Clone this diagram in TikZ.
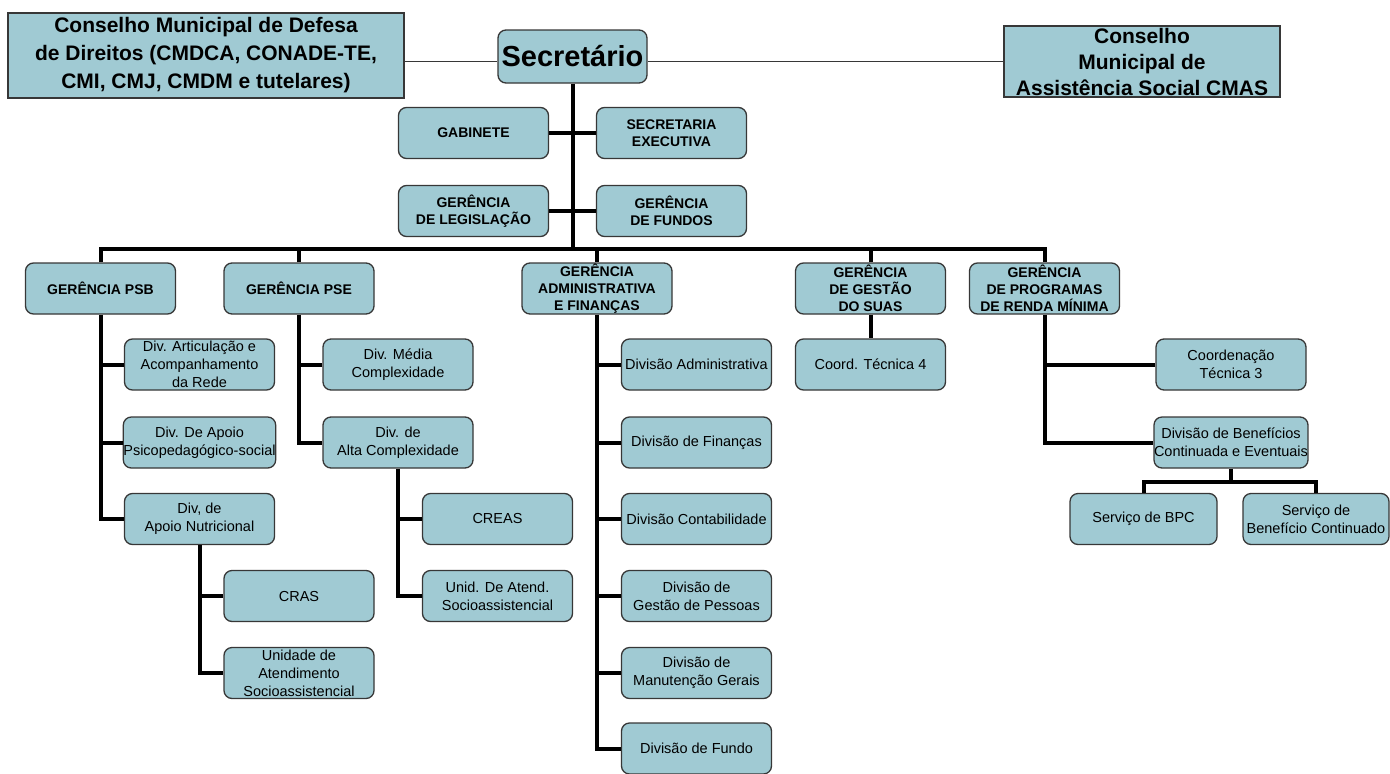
\documentclass[tikz,border=0pt]{standalone}
\usepackage{fontspec}
\setmainfont{Liberation Sans}
\definecolor{BoxBlue}{RGB}{160, 202, 211}
\definecolor{BoxLine}{RGB}{55, 55, 55}
\usepackage{tikz}

\begin{document}
\begin{tikzpicture}[x=1pt, y=-1pt,
    unit/.style={draw=BoxLine, line width=1.3pt, fill=BoxBlue, rounded corners=8pt, inner sep=0pt, align=center,
                 minimum width=150pt, minimum height=51pt, font=\fontsize{14.5}{18}\selectfont},
    chief/.style={unit, font=\bfseries\fontsize{14}{17}\selectfont},
    council/.style={draw=BoxLine, line width=1.3pt, fill=BoxBlue, inner sep=0pt, align=center,
                    font=\bfseries\fontsize{21}{28}\selectfont},
    link/.style={line width=4pt},
    thinlink/.style={line width=1.4pt, draw=BoxLine}]
    \useasboundingbox (0,0) rectangle (1390,774);

    % Top level
    \node[council, minimum width=396pt, minimum height=85pt] (cmdca) at (206,55.5)
        {Conselho Municipal de Defesa\\de Direitos (CMDCA, CONADE-TE,\\CMI, CMJ, CMDM e tutelares)};
    \node[council, minimum width=276pt, minimum height=71pt, font=\bfseries\fontsize{21}{26}\selectfont] (cmas) at (1142,61.5)
        {Conselho\\Municipal de\\Assistência Social CMAS};
    \node[chief, minimum width=149pt, minimum height=53pt, font=\bfseries\fontsize{29}{34}\selectfont] (sec) at (572.5,56.5) {Secretário};

    \node[chief] (gab) at (473.5,133) {GABINETE};
    \node[chief] (secex) at (671.5,133) {SECRETARIA\\EXECUTIVA};
    \node[chief] (gleg) at (473.5,211) {GERÊNCIA\\DE LEGISLAÇÃO};
    \node[chief] (gfun) at (671.5,211) {GERÊNCIA\\DE FUNDOS};
    \coordinate (bus) at (572.5,249);

    % Gerencias
    \node[chief] (psb) at (100.5,288.5) {GERÊNCIA PSB};
    \node[chief] (pse) at (299,288.5) {GERÊNCIA PSE};
    \node[chief] (adm) at (597,288.5) {GERÊNCIA\\ADMINISTRATIVA\\E FINANÇAS};
    \node[chief] (suas) at (870.5,288.5) {GERÊNCIA\\DE GESTÃO\\DO SUAS};
    \node[chief] (renda) at (1044.5,288.5) {GERÊNCIA\\DE PROGRAMAS\\DE RENDA MÍNIMA};

    % PSB
    \node[unit] (art) at (199.5,364.5) {Div. Articulação e\\Acompanhamento\\da Rede};
    \node[unit] (psi) at (199.5,442.5) {Div. De Apoio\\Psicopedagógico-social};
    \node[unit] (nut) at (199.5,519) {Div, de\\Apoio Nutricional};
    \node[unit] (cras) at (299,596) {CRAS};
    \node[unit] (uat) at (299,673) {Unidade de\\Atendimento\\Socioassistencial};

    % PSE
    \node[unit] (media) at (398,364.5) {Div. Média\\Complexidade};
    \node[unit] (alta) at (398,442.5) {Div. de\\Alta Complexidade};
    \node[unit] (creas) at (497.5,519) {CREAS};
    \node[unit] (uda) at (497.5,596) {Unid. De Atend.\\Socioassistencial};

    % Administrativa
    \node[unit] (dadm) at (696.5,364.5) {Divisão Administrativa};
    \node[unit] (dfin) at (696.5,442.5) {Divisão de Finanças};
    \node[unit] (dcont) at (696.5,519) {Divisão Contabilidade};
    \node[unit] (dpes) at (696.5,596) {Divisão de\\Gestão de Pessoas};
    \node[unit] (dman) at (696.5,673) {Divisão de\\Manutenção Gerais};
    \node[unit] (dfun) at (696.5,748.5) {Divisão de Fundo};

    % SUAS and renda minima
    \node[unit] (coord4) at (870.5,364.5) {Coord. Técnica 4};
    \node[unit] (coord3) at (1231,364.5) {Coordenação\\Técnica 3};
    \node[unit] (benef) at (1231,442.5) {Divisão de Benefícios\\Continuada e Eventuais};
    \node[unit, minimum width=147pt] (bpc) at (1143.5,519) {Serviço de BPC};
    \node[unit, minimum width=146pt] (sbc) at (1316,519) {Serviço de\\Benefício Continuado};
    \coordinate (fork) at (1231,482);

    % Connectors
    \draw[thinlink] (cmdca.east |- cmas.west) -- (sec.west |- cmas.west);
    \draw[thinlink] (sec.east |- cmas.west) -- (cmas.west);
    \draw[link] (sec.south) -- (bus);
    \draw[link] (gab.east) -- (secex.west);
    \draw[link] (gleg.east) -- (gfun.west);
    \draw[link] (psb.north) |- (bus) -| (renda.north);
    \foreach \g in {pse, adm, suas}
        \draw[link] (\g.north) -- (\g.north |- bus);

    \draw[link] (psb.south) |- (nut.west);
    \foreach \d in {art, psi}
        \draw[link] (\d.west) -- (\d.west -| psb.south);
    \draw[link] (nut.south) |- (uat.west);
    \draw[link] (cras.west) -- (cras.west -| nut.south);

    \draw[link] (pse.south) |- (alta.west);
    \draw[link] (media.west) -- (media.west -| pse.south);
    \draw[link] (alta.south) |- (uda.west);
    \draw[link] (creas.west) -- (creas.west -| alta.south);

    \draw[link] (adm.south) |- (dfun.west);
    \foreach \d in {dadm, dfin, dcont, dpes, dman}
        \draw[link] (\d.west) -- (\d.west -| adm.south);

    \draw[link] (suas.south) -- (coord4.north);

    \draw[link] (renda.south) |- (benef.west);
    \draw[link] (coord3.west) -- (coord3.west -| renda.south);
    \draw[link] (benef.south) -- (fork);
    \draw[link] (bpc.north) |- (fork) -| (sbc.north);
\end{tikzpicture}
\end{document}
